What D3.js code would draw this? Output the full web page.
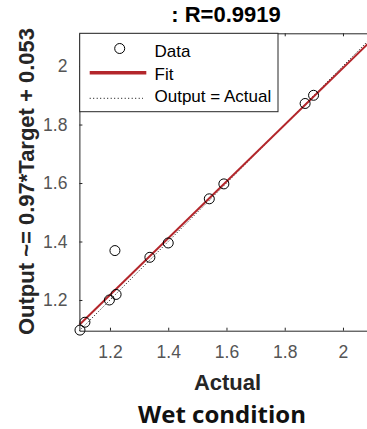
<!DOCTYPE html>
<html>
<head>
<meta charset="utf-8">
<script src="https://cdn.jsdelivr.net/npm/d3@7"></script>
<style>
  body { margin: 0; background: #fff; }
  svg { display: block; font-family: "Liberation Sans", Arial, sans-serif; }
</style>
</head>
<body>
<div id="chart"></div>
<script>
// data
const targets = [1.097, 1.114, 1.198, 1.221, 1.217, 1.337, 1.400, 1.541, 1.591, 1.870, 1.899];
const outputs = [1.097, 1.124, 1.200, 1.219, 1.369, 1.346, 1.395, 1.546, 1.597, 1.872, 1.900];
const axisLimits = [1.095, 2.112];
const tickValues = [1.2, 1.4, 1.6, 1.8, 2];
const fitSlope = 0.97, fitOffset = 0.053;
const titleText = ": R=0.9919";
const yLabelText = "Output ~= 0.97*Target + 0.053";
const xLabelText = "Actual";
const captionText = "Wet condition";
const legendItems = ["Data", "Fit", "Output = Actual"];

const width = 367, height = 429;
const svg = d3.select("#chart").append("svg")
    .attr("width", width)
    .attr("height", height);

// scales
const x = d3.scaleLinear().domain(axisLimits).range([79.4, 375.6]);
const y = d3.scaleLinear().domain(axisLimits).range([330.7, 33.3]);

const plot = svg.append("g");

// y = x reference (dotted)
plot.append("line")
    .attr("x1", x(axisLimits[0])).attr("y1", y(axisLimits[0]))
    .attr("x2", x(axisLimits[1])).attr("y2", y(axisLimits[1]))
    .attr("stroke", "#000")
    .attr("stroke-width", 1)
    .attr("stroke-dasharray", "1,2");

// fit line
const fitLine = d3.line()
    .x(d => x(d))
    .y(d => y(fitSlope * d + fitOffset));
plot.append("path")
    .datum(axisLimits)
    .attr("fill", "none")
    .attr("stroke", "#b3262b")
    .attr("stroke-width", 2)
    .attr("d", fitLine);

// data circles
plot.selectAll("circle.pt")
    .data(targets)
    .enter().append("circle")
    .attr("class", "pt")
    .attr("cx", d => x(d))
    .attr("cy", (d, i) => y(outputs[i]))
    .attr("r", 5)
    .attr("fill", "none")
    .attr("stroke", "#000")
    .attr("stroke-width", 1);

// axes (ticks inward, like matlab)
const axisColor = "#262626";
const labelColor = "#555";

const xAxis = svg.append("g")
    .attr("transform", `translate(0,${y(axisLimits[0])})`)
    .call(d3.axisBottom(x).tickValues(tickValues).tickFormat(d3.format("~g"))
        .tickSizeInner(-3).tickSizeOuter(0).tickPadding(15));
const yAxis = svg.append("g")
    .attr("transform", `translate(${x(axisLimits[0])},0)`)
    .call(d3.axisLeft(y).tickValues(tickValues).tickFormat(d3.format("~g"))
        .tickSizeInner(-3).tickSizeOuter(0).tickPadding(12));
const xTop = svg.append("g")
    .attr("transform", `translate(0,${y(axisLimits[1])})`)
    .call(d3.axisTop(x).tickValues(tickValues).tickFormat("")
        .tickSizeInner(-3).tickSizeOuter(0));

[xAxis, yAxis, xTop].forEach(g => {
    g.select(".domain").attr("stroke", axisColor);
    g.selectAll(".tick line").attr("stroke", axisColor);
    g.selectAll(".tick text")
        .attr("fill", labelColor)
        .style("font-size", "17.5px")
        .style("font-family", "'Liberation Sans', Arial, sans-serif");
});

// legend
const legend = svg.append("g");
legend.append("rect")
    .attr("x", 79.7).attr("y", 33.3)
    .attr("width", 198.3).attr("height", 78.4)
    .attr("fill", "#fff")
    .attr("stroke", axisColor)
    .attr("stroke-width", 1);
legend.append("circle")
    .attr("cx", 119.7).attr("cy", 48.5).attr("r", 5)
    .attr("fill", "none").attr("stroke", "#000");
legend.append("line")
    .attr("x1", 89.7).attr("x2", 146.3).attr("y1", 72.7).attr("y2", 72.7)
    .attr("stroke", "#b3262b").attr("stroke-width", 3.5);
legend.append("line")
    .attr("x1", 89.7).attr("x2", 143).attr("y1", 98.3).attr("y2", 98.3)
    .attr("stroke", "#000").attr("stroke-width", 1)
    .attr("stroke-dasharray", "1,2.5");
legend.selectAll("text")
    .data(legendItems)
    .enter().append("text")
    .attr("x", 154.5)
    .attr("y", (d, i) => [56.7, 79.5, 101.7][i])
    .attr("fill", "#000")
    .style("font-size", "17px")
    .text(d => d);

// title and labels
svg.append("text")
    .attr("x", 226).attr("y", 21.7)
    .attr("text-anchor", "middle")
    .style("font-size", "22px")
    .style("font-weight", "bold")
    .attr("fill", "#000")
    .text(titleText);

svg.append("text")
    .attr("x", 227.5).attr("y", 390)
    .attr("text-anchor", "middle")
    .style("font-size", "22px")
    .style("font-weight", "bold")
    .attr("fill", "#262626")
    .text(xLabelText);

svg.append("text")
    .attr("transform", "translate(34,181.5) rotate(-90)")
    .attr("text-anchor", "middle")
    .style("font-size", "22px")
    .style("font-weight", "bold")
    .attr("fill", "#262626")
    .text(yLabelText);

svg.append("text")
    .attr("x", 222).attr("y", 423)
    .attr("text-anchor", "middle")
    .style("font-family", "'Open Sans', sans-serif")
    .style("font-size", "24px")
    .style("font-weight", "bold")
    .attr("fill", "#111")
    .text(captionText);
</script>
</body>
</html>
